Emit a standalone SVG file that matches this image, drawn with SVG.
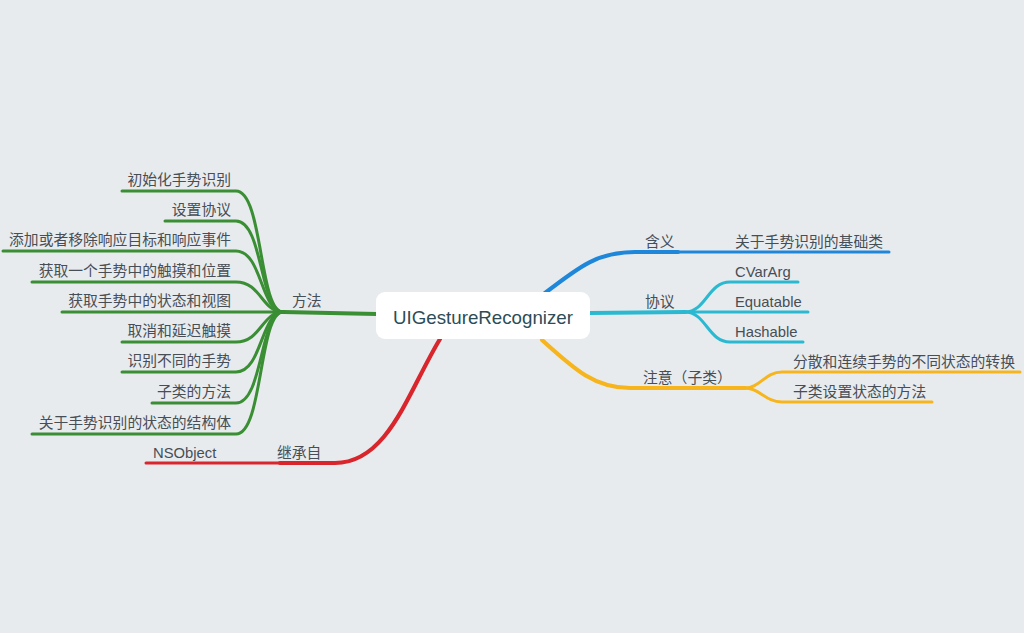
<svg xmlns="http://www.w3.org/2000/svg" width="1024" height="633" viewBox="0 0 1024 633">
<style>
  .t { font-family: "Liberation Sans", "Noto Sans CJK SC", sans-serif; font-size: 14.8px; fill: #474e55; }
  .r { text-anchor: end; }
  .c { fill: none; stroke-linecap: round; stroke-linejoin: round; }
  .m { stroke-width: 4.2; }
  .l { stroke-width: 3; }
  .g { stroke: #3a8e34; }
  .rd { stroke: #d9252c; }
  .b { stroke: #1f87da; }
  .tl { stroke: #2bb9d1; }
  .y { stroke: #f7b51d; }
</style>
<rect x="0" y="0" width="1024" height="633" fill="#e8ebee"/>
<g id="connectors">
  <!-- green -->
  <path class="c m g" d="M377,314 L283,312"/>
  <path class="c l g" d="M283,312 C259,312 263,191 236,191 L122,191"/>
  <path class="c l g" d="M283,312 C260,312 263,221 236,221 L165,221"/>
  <path class="c l g" d="M283,312 C261,312 262,251 236,251 L3,251"/>
  <path class="c l g" d="M283,312 C262,312 261,282 236,282 L32,282"/>
  <path class="c l g" d="M283,312 L62,312"/>
  <path class="c l g" d="M283,312 C262,312 261,342 236,342 L122,342"/>
  <path class="c l g" d="M283,312 C261,312 262,372 236,372 L122,372"/>
  <path class="c l g" d="M283,312 C260,312 263,403 236,403 L152,403"/>
  <path class="c l g" d="M283,312 C259,312 263,434 236,434 L32,434"/>
  <!-- red -->
  <path class="c m rd" d="M440,339 C408,392 388,463 335,463 L280,463"/>
  <path class="c l rd" d="M280,463 L146,463"/>
  <!-- blue -->
  <path class="c m b" d="M545,293 C580,266 598,252 635,252 L678,252"/>
  <path class="c l b" d="M678,252 L889,252"/>
  <!-- teal -->
  <path class="c m tl" d="M590,313 L685,312"/>
  <path class="c l tl" d="M685,312 C706,312 708,282 730,282 L798,282"/>
  <path class="c l tl" d="M685,312 L808,312"/>
  <path class="c l tl" d="M685,312 C706,312 708,342 730,342 L803,342"/>
  <!-- yellow -->
  <path class="c m y" d="M542,340 C575,370 595,388 630,388 L745,388"/>
  <path class="c l y" d="M745,388 C760,388 765,372 782,372 L1020,372"/>
  <path class="c l y" d="M745,388 C760,388 765,402 782,402 L932,402"/>
</g>
<g id="root">
  <rect x="376" y="292" width="214" height="47" rx="9" fill="#ffffff"/>
  <text x="483" y="323.5" text-anchor="middle" textLength="180" lengthAdjust="spacingAndGlyphs" style="font-family:'Liberation Sans','Noto Sans',sans-serif;font-size:19px;fill:#2c4c58">UIGestureRecognizer</text>
</g>
<g id="n-fangfa"><text class="t" x="292" y="306">方法</text></g>
<g id="n-m1"><text class="t r" x="231" y="185">初始化手势识别</text></g>
<g id="n-m2"><text class="t r" x="231" y="215">设置协议</text></g>
<g id="n-m3"><text class="t r" x="231" y="245">添加或者移除响应目标和响应事件</text></g>
<g id="n-m4"><text class="t r" x="231" y="276">获取一个手势中的触摸和位置</text></g>
<g id="n-m5"><text class="t r" x="231" y="306">获取手势中的状态和视图</text></g>
<g id="n-m6"><text class="t r" x="231" y="336">取消和延迟触摸</text></g>
<g id="n-m7"><text class="t r" x="231" y="366">识别不同的手势</text></g>
<g id="n-m8"><text class="t r" x="231" y="397">子类的方法</text></g>
<g id="n-m9"><text class="t r" x="231" y="428">关于手势识别的状态的结构体</text></g>
<g id="n-jicheng"><text class="t" x="277" y="458">继承自</text></g>
<g id="n-nsobject"><text class="t" x="153" y="458">NSObject</text></g>
<g id="n-hanyi"><text class="t" x="645" y="247">含义</text></g>
<g id="n-hanyi-1"><text class="t" x="735" y="247">关于手势识别的基础类</text></g>
<g id="n-xieyi"><text class="t" x="645" y="307">协议</text></g>
<g id="n-cvararg"><text class="t" x="735" y="277">CVarArg</text></g>
<g id="n-equatable"><text class="t" x="735" y="307">Equatable</text></g>
<g id="n-hashable"><text class="t" x="735" y="337">Hashable</text></g>
<g id="n-zhuyi"><text class="t" x="643" y="383">注意（子类）</text></g>
<g id="n-zhuyi-1"><text class="t" x="793" y="367">分散和连续手势的不同状态的转换</text></g>
<g id="n-zhuyi-2"><text class="t" x="793" y="397">子类设置状态的方法</text></g>
</svg>
